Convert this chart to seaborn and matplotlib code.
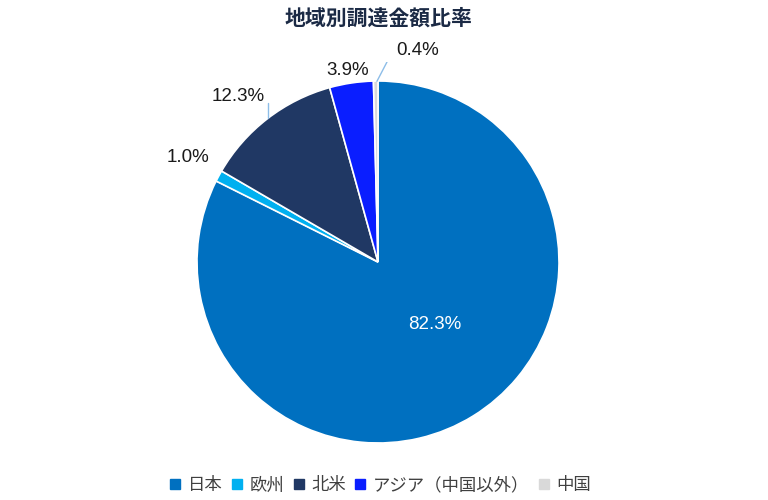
import matplotlib
matplotlib.use("Agg")
import matplotlib.pyplot as plt
from matplotlib.lines import Line2D
import seaborn as sns

sns.set_theme(style="white")
plt.rcParams['font.family'] = ['Liberation Sans', 'Noto Sans CJK JP', 'DejaVu Sans']

title = "地域別調達金額比率"
categories = ["日本", "欧州", "北米", "アジア（中国以外）", "中国"]
values = [82.3, 1.0, 12.3, 3.9, 0.4]
labels = ["82.3%", "1.0%", "12.3%", "3.9%", "0.4%"]
colors = ["#0070C0", "#00B0F0", "#203864", "#0A1EFF", "#D9D9D9"]

# label placement (axes units, radius = 1)
label_xy = [(0.315, -0.348), (-1.05, 0.575), (-0.773, 0.912), (-0.166, 1.06), (0.221, 1.171)]
label_colors = ["white", "#1a1a1a", "#1a1a1a", "#1a1a1a", "#1a1a1a"]

fig = plt.figure(figsize=(7.68, 5.0), dpi=100)
cx, cy, half = 378, 262, 200
ax = fig.add_axes([(cx - half) / 768, (500 - cy - half) / 500, 2 * half / 768, 2 * half / 500])
wedges, _ = ax.pie(values, colors=colors, startangle=90, counterclock=False,
                   wedgeprops=dict(edgecolor="white", linewidth=1.2), radius=1)
lim = half / 181
ax.set_xlim(-lim, lim)
ax.set_ylim(-lim, lim)
ax.set_aspect("equal")
ax.axis("off")

for (x, y), t, c in zip(label_xy, labels, label_colors):
    ax.text(x, y, t, ha="center", va="center", fontsize=13.5, color=c)

# leader lines
lc = "#8DBDE8"
ax.plot([-0.608, -0.608], [0.88, 0.797], color=lc, lw=1)
ax.plot([-0.006, 0.061, 0.083], [0.998, 1.127, 1.127], color=lc, lw=1)

fig.text(cx / 768, 1 - 18 / 500, title, ha="center", va="center", fontsize=15,
         fontweight="bold", color="#1B2A45")

handles = [Line2D([0], [0], marker="s", linestyle="none", markersize=7,
                  markerfacecolor=c, markeredgecolor=c) for c in colors]
fig.legend(handles, categories, loc="center", bbox_to_anchor=(380 / 768, 1 - 485 / 500),
           ncol=5, frameon=False, fontsize=12.5, handlelength=0.7, handletextpad=0.35,
           columnspacing=0.5, labelcolor="#404040")

fig.savefig("out.png", dpi=100)
